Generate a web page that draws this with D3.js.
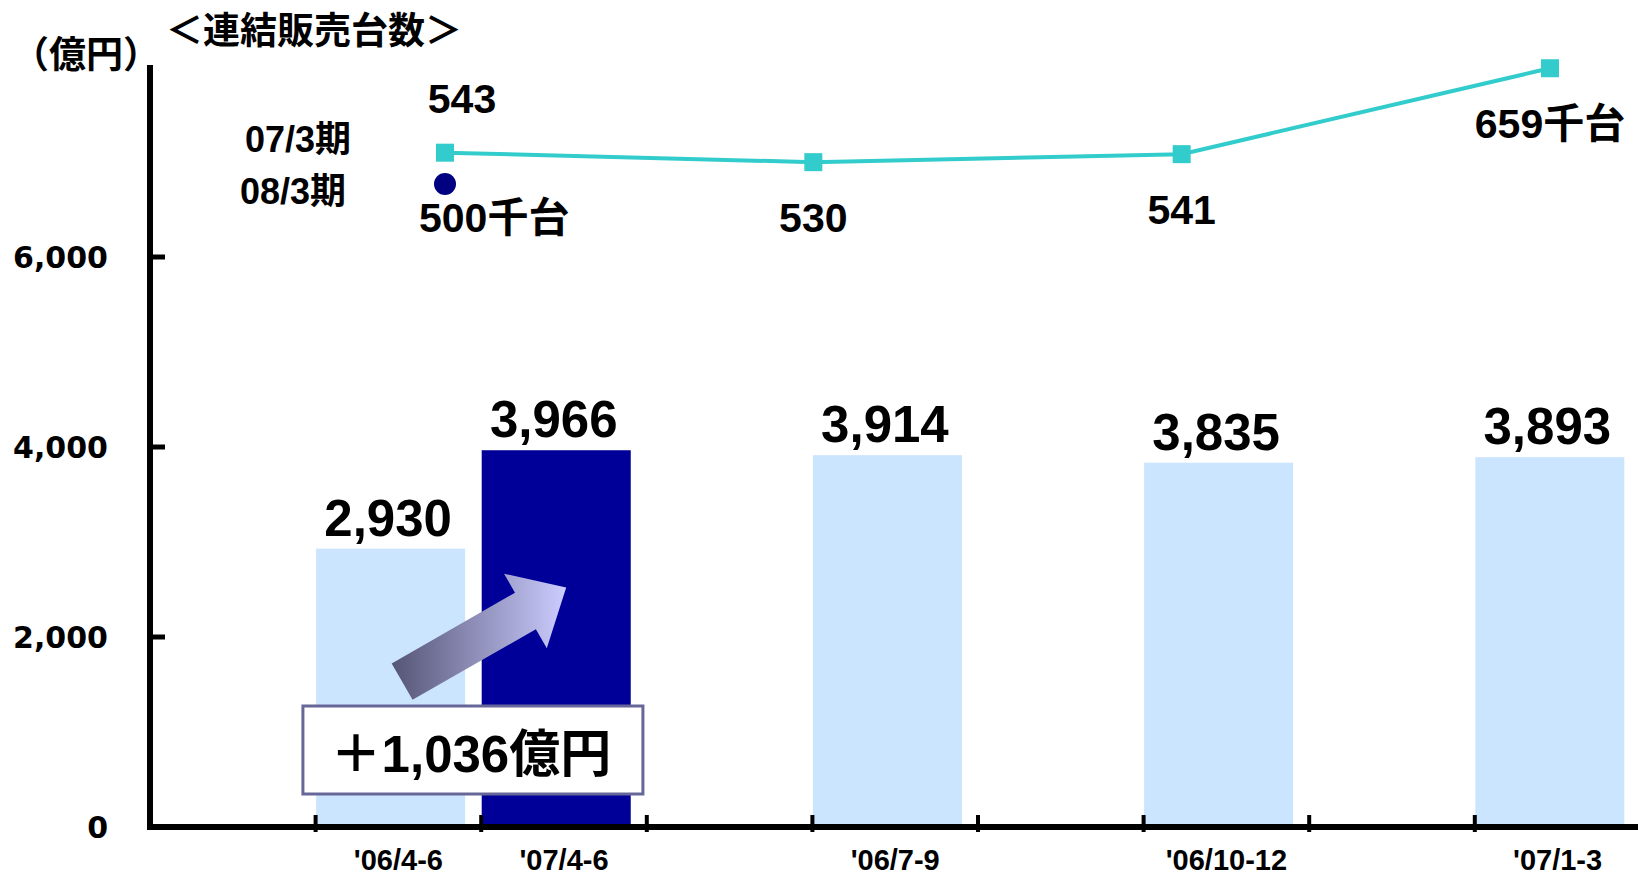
<!DOCTYPE html>
<html>
<head>
    <meta charset="utf-8">
    <title>連結売上高・販売台数</title>
    <script src="https://d3js.org/d3.v7.min.js"></script>
    <style>
        body {
            margin: 0;
            padding: 0;
            background-color: #ffffff;
        }
        text { font-weight: bold; fill: #000; }
        .num { font-family: "Liberation Sans", Arial, "Noto Sans CJK JP", sans-serif; }
        .jp { font-family: "Noto Sans CJK JP", sans-serif; }
        .ytick { font-family: "DejaVu Sans", Verdana, sans-serif; }
    </style>
</head>
<body>
<div class="chart"></div>
<script>
    // quarterly sales (億円); blank slots are spacer columns like the original sheet
    var categories = ["", "'06/4-6", "'07/4-6", "", "'06/7-9", "", "'06/10-12", "", "'07/1-3"];
    var sales = [null, 2930, 3966, null, 3914, null, 3835, null, 3893];
    var highlight = "'07/4-6";
    var yTicks = [0, 2000, 4000, 6000];

    // units sold (千台)
    var unitQuarters = ["'06/4-6", "'06/7-9", "'06/10-12", "'07/1-3"];
    var units073 = [543, 530, 541, 659];
    var units083 = [500];
    var seriesNames = ["07/3期", "08/3期"];

    var width = 1638,
        height = 875;

    var svg = d3.select(".chart").append("svg")
        .attr("width", width)
        .attr("height", height);

    var x = d3.scaleBand()
        .domain(d3.range(categories.length))
        .range([150, 150 + 165.6 * categories.length])
        .padding(0);

    var y = d3.scaleLinear()
        .domain([0, 8000])
        .range([827, 67]);

    var barW = x.bandwidth() * 0.9;

    // bars
    var barData = categories.map(function(c, i) { return {cat: c, i: i, v: sales[i]}; })
        .filter(function(d) { return d.v != null; });

    svg.selectAll(".bar")
        .data(barData)
        .enter()
        .append("rect")
        .attr("class", "bar")
        .attr("x", function(d) { return x(d.i) + 0.5; })
        .attr("y", function(d) { return y(d.v); })
        .attr("width", barW)
        .attr("height", function(d) { return y(0) - y(d.v); })
        .attr("fill", function(d) { return d.cat == highlight ? "#000099" : "#cce5ff"; });

    svg.selectAll(".barLabel")
        .data(barData)
        .enter()
        .append("text")
        .attr("class", "num")
        .text(function(d) { return d3.format(",")(d.v); })
        .attr("x", function(d) { return x(d.i) + barW / 2 - 2; })
        .attr("y", function(d) { return y(d.v) - 13; })
        .attr("text-anchor", "middle")
        .style("font-size", "51px");

    // y axis
    svg.append("line")
        .attr("x1", 150).attr("x2", 150)
        .attr("y1", 65).attr("y2", y(0) + 3)
        .attr("stroke", "#000").attr("stroke-width", 6);

    svg.selectAll(".yTickMark")
        .data(yTicks.slice(1))
        .enter()
        .append("line")
        .attr("x1", 150).attr("x2", 165)
        .attr("y1", function(d) { return y(d); })
        .attr("y2", function(d) { return y(d); })
        .attr("stroke", "#000").attr("stroke-width", 5);

    svg.selectAll(".yTick")
        .data(yTicks)
        .enter()
        .append("text")
        .attr("class", "ytick")
        .text(function(d) { return d3.format(",")(d); })
        .attr("x", 108)
        .attr("y", function(d) { return y(d); })
        .attr("dy", "0.36em")
        .attr("text-anchor", "end")
        .style("font-size", "30px");

    // x axis
    svg.append("line")
        .attr("x1", 147).attr("x2", width)
        .attr("y1", y(0)).attr("y2", y(0))
        .attr("stroke", "#000").attr("stroke-width", 6);

    svg.selectAll(".xTickMark")
        .data(d3.range(1, categories.length))
        .enter()
        .append("line")
        .attr("x1", function(d) { return x(d); })
        .attr("x2", function(d) { return x(d); })
        .attr("y1", y(0) - 12).attr("y2", y(0) + 5)
        .attr("stroke", "#000").attr("stroke-width", 4);

    svg.selectAll(".xLabel")
        .data(barData)
        .enter()
        .append("text")
        .attr("class", "num")
        .text(function(d) { return d.cat; })
        .attr("x", function(d) { return x(d.i) + x.bandwidth() / 2; })
        .attr("y", 870)
        .attr("text-anchor", "middle")
        .style("font-size", "29px");

    // units sold line
    var xu = d3.scalePoint()
        .domain(unitQuarters)
        .range([445, 1550]);

    var yu = d3.scaleLinear()
        .domain([0, 750])
        .range([548, 2]);

    svg.append("path")
        .datum(units073)
        .attr("fill", "none")
        .attr("stroke", "#33cccc")
        .attr("stroke-width", 4)
        .attr("d", d3.line()
            .x(function(d, i) { return xu(unitQuarters[i]); })
            .y(function(d) { return yu(d); }));

    svg.selectAll(".sq")
        .data(units073)
        .enter()
        .append("rect")
        .attr("x", function(d, i) { return xu(unitQuarters[i]) - 9; })
        .attr("y", function(d) { return yu(d) - 9; })
        .attr("width", 18).attr("height", 18)
        .attr("fill", "#33cccc");

    svg.selectAll(".dot")
        .data(units083)
        .enter()
        .append("circle")
        .attr("cx", function(d, i) { return xu(unitQuarters[i]); })
        .attr("cy", function(d) { return yu(d); })
        .attr("r", 11)
        .attr("fill", "#000080");

    svg.selectAll(".unitLabel")
        .data(units073)
        .enter()
        .append("text")
        .attr("class", "num")
        .text(function(d, i) { return i == units073.length - 1 ? d + "千台" : d; })
        .attr("x", function(d, i) { return xu(unitQuarters[i]) + (i == 0 ? 17 : 0); })
        .attr("y", function(d, i) { return yu(d) + (i == 0 ? -40 : 70); })
        .attr("text-anchor", "middle")
        .style("font-size", "41px");

    svg.selectAll(".unitLabel2")
        .data(units083)
        .enter()
        .append("text")
        .attr("class", "num")
        .text(function(d) { return d + "千台"; })
        .attr("x", function(d, i) { return xu(unitQuarters[i]) - 26; })
        .attr("y", function(d) { return yu(d) + 48; })
        .attr("text-anchor", "start")
        .style("font-size", "41px");

    // series names
    svg.selectAll(".series")
        .data(seriesNames)
        .enter()
        .append("text")
        .attr("class", "num")
        .text(function(d) { return d; })
        .attr("x", function(d, i) { return 245 - i * 5; })
        .attr("y", function(d, i) { return 152 + i * 52; })
        .style("font-size", "36px");

    // titles
    svg.append("text")
        .attr("class", "jp")
        .text("（億円）")
        .attr("x", 12).attr("y", 68)
        .style("font-size", "37px");

    svg.append("text")
        .attr("class", "jp")
        .text("＜連結販売台数＞")
        .attr("x", 166).attr("y", 44)
        .style("font-size", "37px");

    // growth arrow
    var defs = svg.append("defs");
    var grad = defs.append("linearGradient")
        .attr("id", "arrowGrad")
        .attr("x1", "0").attr("x2", "1")
        .attr("y1", "0").attr("y2", "0");
    grad.append("stop").attr("offset", "0").attr("stop-color", "#555577");
    grad.append("stop").attr("offset", "1").attr("stop-color", "#ccccff");

    var b1 = barData[0], b2 = barData[1];
    var sx = x(b1.i) + barW / 2 + 12, sy = y(1530);
    var tx = x(b2.i) + 85, ty = y(2520);
    var ang = Math.atan2(ty - sy, tx - sx);
    var len = Math.hypot(tx - sx, ty - sy);
    var shaftW = 21, headW = 43, headL = 47;
    var pts = [
        [0, -shaftW], [len - headL, -shaftW], [len - headL, -headW],
        [len, 0], [len - headL, headW], [len - headL, shaftW], [0, shaftW]
    ].map(function(p) {
        return [sx + p[0] * Math.cos(ang) - p[1] * Math.sin(ang),
                sy + p[0] * Math.sin(ang) + p[1] * Math.cos(ang)];
    });
    svg.append("polygon")
        .attr("points", pts.map(function(p) { return p.join(","); }).join(" "))
        .attr("fill", "url(#arrowGrad)");

    // increase box
    var inc = sales[categories.indexOf(highlight)] - sales[categories.indexOf("'06/4-6")];
    var bx = (x(b1.i) + x(b2.i) + barW) / 2;
    svg.append("rect")
        .attr("x", bx - 170).attr("y", 706)
        .attr("width", 340).attr("height", 88)
        .attr("fill", "#fff")
        .attr("stroke", "#666699")
        .attr("stroke-width", 3);

    svg.append("text")
        .attr("class", "num")
        .text("＋" + d3.format(",")(inc) + "億円")
        .attr("x", bx - 2).attr("y", 772)
        .attr("text-anchor", "middle")
        .style("font-size", "51px");
</script>
</body>
</html>
